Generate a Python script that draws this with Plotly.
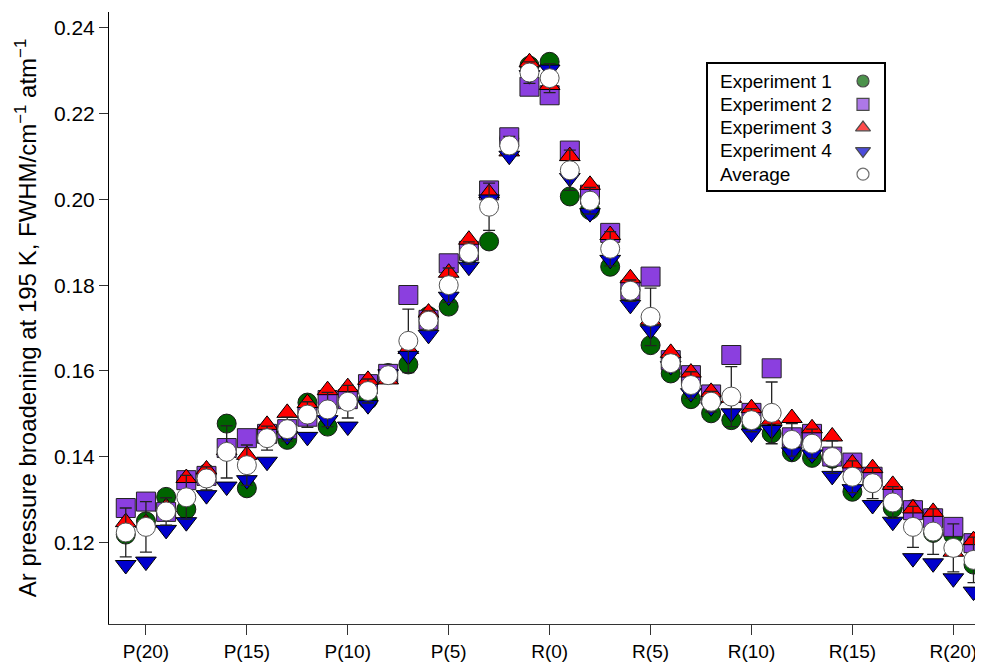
import plotly.graph_objects as go

# ---------------- data ----------------
# x position: P(J) -> -J, R(J) -> J
lines = [f"P({j})" for j in range(21, 0, -1)] + [f"R({j})" for j in range(0, 22)]
xpos = list(range(-21, 0)) + list(range(0, 22))

exp1 = [0.1218, 0.1249, 0.1306, 0.1277, 0.1360, 0.1477, 0.1326, 0.1457, 0.1439, 0.1526,
        0.1470, 0.1546, 0.1532, 0.1595, 0.1615, 0.1728, 0.1750, 0.1871, 0.1902, 0.2142, 0.2312,
        0.2321, 0.2007, 0.1975, 0.1843, 0.1789, 0.1660, 0.1594, 0.1534, 0.1501, 0.1485, 0.1471,
        0.1454, 0.1410, 0.1397, 0.1395, 0.1318, 0.1339, 0.1280, 0.1277, 0.1222, 0.1217, 0.1148]
exp2 = [0.1280, 0.1295, 0.1271, 0.1345, 0.1355, 0.1420, 0.1443, 0.1453, 0.1464, 0.1493,
        0.1532, 0.1534, 0.1569, 0.1593, 0.1777, 0.1719, 0.1851, 0.1880, 0.2021, 0.2145, 0.2263,
        0.2243, 0.2114, 0.2011, 0.1922, 0.1789, 0.1820, 0.1625, 0.1590, 0.1545, 0.1637, 0.1502,
        0.1606, 0.1445, 0.1453, 0.1400, 0.1386, 0.1353, 0.1308, 0.1275, 0.1256, 0.1236, 0.1198]
exp3 = [0.1247, 0.1245, 0.1282, 0.1350, 0.1370, 0.1415, 0.1404, 0.1474, 0.1502, 0.1525,
        0.1555, 0.1562, 0.1579, 0.1580, 0.1651, 0.1736, 0.1829, 0.1906, 0.2015, 0.2112, 0.2320,
        0.2267, 0.2101, 0.2034, 0.1917, 0.1816, 0.1719, 0.1642, 0.1596, 0.1551, 0.1537, 0.1513,
        0.1486, 0.1490, 0.1466, 0.1447, 0.1384, 0.1373, 0.1334, 0.1279, 0.1271, 0.1178, 0.1205]
exp4 = [0.1147, 0.1155, 0.1229, 0.1247, 0.1310, 0.1330, 0.1345, 0.1388, 0.1448, 0.1446,
        0.1485, 0.1470, 0.1520, 0.1592, 0.1635, 0.1684, 0.1773, 0.1843, 0.2000, 0.2102, 0.2290,
        0.2303, 0.2050, 0.1968, 0.1859, 0.1754, 0.1695, 0.1611, 0.1548, 0.1515, 0.1501, 0.1454,
        0.1462, 0.1410, 0.1405, 0.1355, 0.1324, 0.1287, 0.1248, 0.1163, 0.1151, 0.1116, 0.1085]
average = [0.1223, 0.1236, 0.1272, 0.1305, 0.1349, 0.1411, 0.1380, 0.1443, 0.1464, 0.1498,
           0.1510, 0.1528, 0.1553, 0.1590, 0.1670, 0.1717, 0.1800, 0.1875, 0.1983, 0.2126, 0.2296,
           0.2283, 0.2068, 0.1997, 0.1885, 0.1787, 0.1726, 0.1618, 0.1567, 0.1528, 0.1540, 0.1485,
           0.1502, 0.1439, 0.1430, 0.1399, 0.1353, 0.1338, 0.1293, 0.1236, 0.1225, 0.1187, 0.1159]
avg_err = [0.0057, 0.0059, 0.0032, 0.0051, 0.0027, 0.0061, 0.0047, 0.0028, 0.0028, 0.0030,
           0.0040, 0.0038, 0.0028, 0.0007, 0.0074, 0.0023, 0.0040, 0.0026, 0.0055, 0.0021, 0.0025,
           0.0034, 0.0047, 0.0031, 0.0040, 0.0025, 0.0067, 0.0020, 0.0031, 0.0024, 0.0070, 0.0027,
           0.0072, 0.0038, 0.0034, 0.0038, 0.0037, 0.0036, 0.0037, 0.0048, 0.0053, 0.0056, 0.0053]

tick_vals = [-20, -15, -10, -5, 0, 5, 10, 15, 20]
tick_text = ["P(20)", "P(15)", "P(10)", "P(5)", "R(0)", "R(5)", "R(10)", "R(15)", "R(20)"]
y_ticks = [0.12, 0.14, 0.16, 0.18, 0.20, 0.22, 0.24]

series_names = ["Experiment 1", "Experiment 2", "Experiment 3", "Experiment 4", "Average"]

# ---------------- styles ----------------
FONT = "Liberation Sans, Arial, sans-serif"
styles = [
    dict(symbol="circle", color="#006400", line="#1a1a1a"),
    dict(symbol="square", color="#8B3FDF", line="#222222"),
    dict(symbol="triangle-up", color="#FF0000", line="#000000"),
    dict(symbol="triangle-down", color="#0000CC", line="#000000"),
    dict(symbol="circle", color="#FFFFFF", line="#555555"),
]
sizes = [19, 19, 18, 18, 19]

fig = go.Figure()
for i, ys in enumerate([exp1, exp2, exp3, exp4]):
    st = styles[i]
    fig.add_trace(go.Scatter(
        x=xpos, y=ys, mode="markers", name=series_names[i], showlegend=False,
        marker=dict(symbol=st["symbol"], size=sizes[i], color=st["color"],
                    line=dict(color=st["line"], width=1)),
        text=lines, hoverinfo="text+y"))

st = styles[4]
fig.add_trace(go.Scatter(
    x=xpos, y=average, mode="markers", name=series_names[4], showlegend=False,
    marker=dict(symbol=st["symbol"], size=sizes[4], color=st["color"],
                line=dict(color=st["line"], width=1)),
    error_y=dict(type="data", array=avg_err, visible=True, color="#222222",
                 thickness=1.3, width=6),
    text=lines, hoverinfo="text+y"))

# ---------------- geometry (page has an 8 px body margin) ----------------
OFF = 8
W, H = 983 - OFF, 663 - OFF
ML, MR, MT, MB = 109 - OFF, 0, 12 - OFF, 39
pw, ph = W - ML - MR, H - MT - MB


def px(xp):
    # window pixel -> paper fraction
    return (xp - OFF - ML) / pw


def py(yp):
    return (OFF + H - MB - yp) / ph


leg_rows = [81, 104.3, 127.6, 150.9, 174.2]
leg_text_x = 718
leg_sym_x = 863
annotations = []
for name, yr in zip(series_names, leg_rows):
    annotations.append(dict(xref="paper", yref="paper", x=px(leg_text_x), y=py(yr),
                            text=name, showarrow=False, xanchor="left", yanchor="middle",
                            font=dict(family=FONT, size=19, color="#000000")))

fig.add_trace(go.Scatter(
    x=[px(leg_sym_x)] * 5, y=[py(r) for r in leg_rows], xaxis="x2", yaxis="y2",
    mode="markers", showlegend=False, hoverinfo="skip",
    marker=dict(symbol=[s["symbol"] for s in styles], size=[12, 12, 13, 13, 12],
                color=[s["color"] for s in styles],
                line=dict(color=["#000000", "#000000", "#000000", "#000000", "#333333"], width=1.2))))

shapes = [dict(type="rect", xref="paper", yref="paper", x0=px(707), x1=px(885),
               y0=py(191), y1=py(63), line=dict(color="#000000", width=2),
               fillcolor="rgba(255,255,255,0)", layer="below")]

fig.update_layout(
    width=W, height=H,
    margin=dict(l=ML, r=MR, t=MT, b=MB, autoexpand=False),
    paper_bgcolor="white", plot_bgcolor="white",
    font=dict(family=FONT, size=20, color="#000000"),
    showlegend=False,
    xaxis=dict(range=[-21.83, 21.47], tickmode="array", tickvals=tick_vals, ticktext=tick_text,
               showgrid=False, zeroline=False, showline=True, linecolor="#333333", linewidth=1,
               ticks="outside", ticklen=10, tickwidth=1, tickcolor="#333333",
               tickfont=dict(family=FONT, size=19, color="#000000")),
    yaxis=dict(range=[0.10094, 0.24373], tickmode="array", tickvals=y_ticks, tickformat=".2f",
               showgrid=False, zeroline=False, showline=True, linecolor="#000000", linewidth=1,
               ticks="outside", ticklen=9, tickwidth=1, tickcolor="#333333",
               tickfont=dict(family=FONT, size=21, color="#000000"),
               title=dict(text="Ar pressure broadening at 195 K, FWHM/cm<sup>\u22121</sup> atm<sup>\u22121</sup>",
                          font=dict(family=FONT, size=24, color="#000000"), standoff=10)),
    xaxis2=dict(range=[0, 1], overlaying="x", visible=False, fixedrange=True),
    yaxis2=dict(range=[0, 1], overlaying="y", visible=False, fixedrange=True),
    annotations=annotations,
    shapes=shapes,
)

fig.write_html("out.html")
